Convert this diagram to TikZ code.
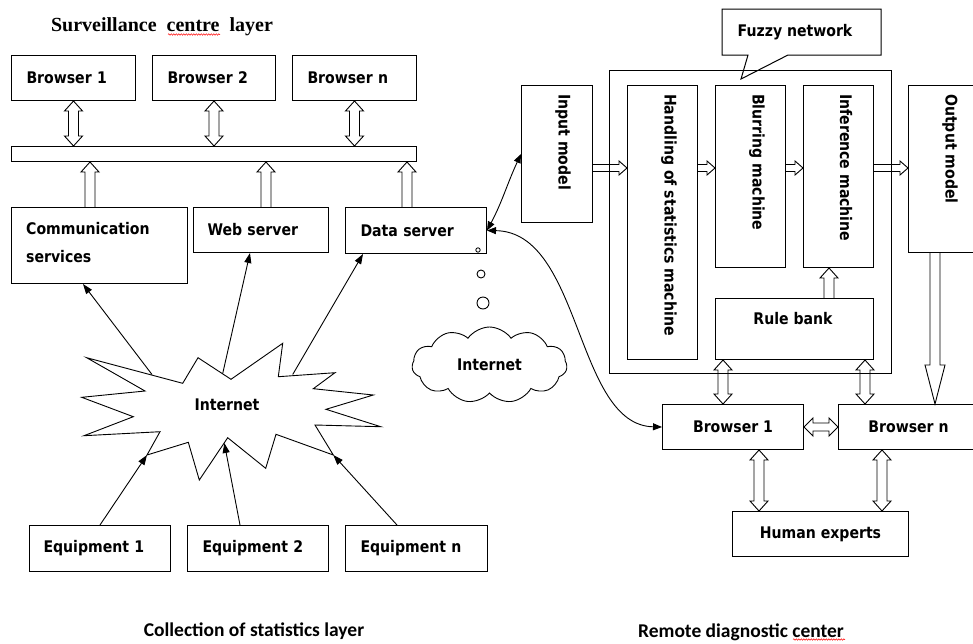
\documentclass[tikz,border=0pt]{standalone}
\usepackage{fontspec}
\setmainfont{Liberation Serif}
\newfontfamily\bxf{DejaVu Sans}[FakeStretch=0.88]
\newfontfamily\carl{Carlito}
\usetikzlibrary{calc,shapes.symbols,arrows.meta,decorations.pathmorphing}
% block arrows
\newcommand\vdarr[2]{\draw[blk] let \p1=#1, \p2=#2 in (\x1,\y1) -- (\x1+9pt,\y1-10pt) -- (\x1+5pt,\y1-10pt) -- (\x1+5pt,\y2+10pt) -- (\x1+9pt,\y2+10pt) -- (\x1,\y2) -- (\x1-9pt,\y2+10pt) -- (\x1-5pt,\y2+10pt) -- (\x1-5pt,\y1-10pt) -- (\x1-9pt,\y1-10pt) -- cycle;}
\newcommand\vuarr[2]{\draw[blk] let \p1=#1, \p2=#2 in (\x1-5pt,\y1) -- (\x1-5pt,\y2-10pt) -- (\x1-9pt,\y2-10pt) -- (\x1,\y2) -- (\x1+9pt,\y2-10pt) -- (\x1+5pt,\y2-10pt) -- (\x1+5pt,\y1);}
\newcommand\hrarr[2]{\draw[blk] let \p1=#1, \p2=#2 in (\x1,\y1+3.5pt) -- (\x2-8pt,\y1+3.5pt) -- (\x2-8pt,\y1+7pt) -- (\x2,\y1) -- (\x2-8pt,\y1-7pt) -- (\x2-8pt,\y1-3.5pt) -- (\x1,\y1-3.5pt);}
\newcommand\hdarr[2]{\draw[blk] let \p1=#1, \p2=#2 in (\x1,\y1) -- (\x1+9pt,\y1+9pt) -- (\x1+9pt,\y1+4pt) -- (\x2-9pt,\y1+4pt) -- (\x2-9pt,\y1+9pt) -- (\x2,\y1) -- (\x2-9pt,\y1-9pt) -- (\x2-9pt,\y1-4pt) -- (\x1+9pt,\y1-4pt) -- (\x1+9pt,\y1-9pt) -- cycle;}
\newcommand\vdown[2]{\draw[blk] let \p1=#1, \p2=#2 in (\x1-5pt,\y1) -- (\x1-5pt,\y2+39pt) -- (\x1-10pt,\y2+39pt) -- (\x1,\y2) -- (\x1+10pt,\y2+39pt) -- (\x1+5pt,\y2+39pt) -- (\x1+5pt,\y1);}
\begin{document}
\begin{tikzpicture}[x=1pt,y=-1pt,
  tf/.style={font=\bxf\bfseries\fontsize{16}{19}\selectfont},
  bx/.style={draw, line width=1pt, inner sep=0pt, anchor=north west, tf},
  lbx/.style={bx, inner xsep=15pt, align=left},
  vt/.style={tf, inner sep=0pt, anchor=west, rotate=-90},
  blk/.style={line width=0.9pt, line join=miter},
  la/.style={line width=0.9pt, -{Triangle[length=10pt,width=7pt]}},
  cv/.style={line width=0.9pt, {Triangle[length=9pt,width=7pt]}-{Triangle[length=9pt,width=7pt]}},
  squig/.style={red, line width=0.5pt, decorate, decoration={snake, amplitude=0.7pt, segment length=2.5pt}}
]
\useasboundingbox (0,0) rectangle (973,643);

% ---------- Surveillance centre layer ----------
\node[font=\bfseries\fontsize{20}{23}\selectfont, inner sep=0pt] (title) at (162,27) {Surveillance\ \ centre\ \ layer};
\draw[squig] (168,34.5) -- (220,34.5);

\node[lbx, minimum width=124pt, minimum height=45pt, text width=94pt] (b1) at (11,55) {Browser 1};
\node[lbx, minimum width=123pt, minimum height=45pt, text width=93pt] (b2) at (152,55) {Browser 2};
\node[lbx, minimum width=124pt, minimum height=45pt, text width=94pt] (bn) at (292,55) {Browser n};
\node[bx, minimum width=405pt, minimum height=15pt] (bus) at (11,146) {};

\node[bx, minimum width=176pt, minimum height=76pt] (comm) at (11,207) {};
\node[tf, inner sep=0pt, anchor=base west] (tcomm1) at (26,234) {Communication};
\node[tf, inner sep=0pt, anchor=base west] (tcomm2) at (26,262) {services};
\node[bx, inner xsep=14pt, align=left, minimum width=135pt, minimum height=45pt, text width=107pt] (web) at (193,207) {Web server};
\node[bx, inner xsep=15pt, align=left, minimum width=141pt, minimum height=46pt, text width=111pt] (ds) at (345,207) {Data server};

\vdarr{(b1.south)}{(bus.north)}
\vdarr{(b2.south)}{(bus.north)}
\vdarr{(bn.south)}{(bus.north)}
\vuarr{($(comm.north west)+(79,0)$)}{(bus.south)}
\vuarr{($(web.north west)+(73,0)$)}{(bus.south)}
\vuarr{($(ds.north west)+(62,0)$)}{(bus.south)}

% ---------- Internet star ----------
\draw[line width=0.9pt, line join=miter] (86.7,357.7) -- (145,391) -- (81.7,397.3) -- (133.3,416.7) -- (84,435.7) -- (160,431.7) -- (147,455) -- (188.3,442.3) -- (199.3,480) -- (227.7,437.7) -- (265.7,468.3) -- (276,434.3) -- (333.3,455) -- (315,425) -- (380.7,426.7) -- (326,409.3) -- (373.3,395) -- (313.3,388.7) -- (335,372.7) -- (278.3,376.7) -- (282.7,343.3) -- (231,379.3) -- (198,357.7) -- (182.7,383.3) -- cycle;
\node[tf, inner sep=0pt] (inet) at (227,405) {Internet};
\coordinate (sc) at (152,374.5);
\coordinate (sw) at (222.7,373.5);
\coordinate (sd) at (292.7,374.5);
\coordinate (se1) at (147,455);
\coordinate (se2) at (224.3,443);
\coordinate (sen) at (333.3,455);

\node[lbx, inner xsep=14pt, minimum width=141pt, minimum height=46pt, text width=113pt] (eq1) at (29,525) {Equipment 1};
\node[lbx, inner xsep=15pt, minimum width=141pt, minimum height=46pt, text width=111pt] (eq2) at (187,525) {Equipment 2};
\node[lbx, inner xsep=15pt, minimum width=142pt, minimum height=46pt, text width=112pt] (eqn) at (345,525) {Equipment n};

\draw[la] (sc) -- ($(comm.south west)+(72,0)$);
\draw[la] (sw) -- ($(web.south west)+(57,0)$);
\draw[la] (sd) -- ($(ds.south west)+(18,0)$);
\draw[la] ($(eq1.north west)+(71,0)$) -- (se1);
\draw[la] ($(eq2.north west)+(53,0)$) -- (se2);
\draw[la] ($(eqn.north west)+(52,0)$) -- (sen);

\node[font=\carl\bfseries\fontsize{19.5}{22}\selectfont, inner sep=0pt] (coll) at (254,631) {Collection of statistics layer};

% ---------- thought bubbles and cloud ----------
\draw[line width=0.8pt] (478,250) circle (2.2);
\draw[line width=0.9pt] (481,274) circle (4);
\draw[line width=0.9pt] (483,303) circle (6);
\node[cloud, draw, line width=0.9pt, cloud puffs=11, cloud puff arc=110, aspect=2.1, minimum width=155pt, minimum height=76pt, inner sep=0pt, tf] (cloud) at (489.5,365) {Internet};

% ---------- Fuzzy network ----------
\draw[line width=1pt, line join=miter] (722,9) -- (881,9) -- (881,55) -- (788,55) -- (741,79) -- (748,55) -- (722,55) -- cycle;
\node[tf, inner sep=0pt] (fzl) at (795,32) {Fuzzy network};

\node[bx, minimum width=282pt, minimum height=303pt] (fz) at (609,70) {};
\node[bx, minimum width=71pt, minimum height=137pt] (inp) at (521,85) {};
\node[bx, minimum width=70pt, minimum height=274pt] (hand) at (627,85) {};
\node[bx, minimum width=70pt, minimum height=182pt] (blur) at (715,85) {};
\node[bx, minimum width=70pt, minimum height=182pt] (inf) at (803,85) {};
\node[bx, minimum width=75pt, minimum height=167pt] (out) at (908,85) {};
\node[bx, minimum width=158pt, minimum height=61pt] (rule) at (715,298) {};

\node[vt] (tinp) at (563,94) {Input model};
\node[vt] (thand) at (669,94) {Handling of statistics machine};
\node[vt] (tblur) at (757,94) {Blurring machine};
\node[vt] (tinf) at (846,94) {Inference machine};
\node[vt] (tout) at (950,94) {Output model};
\node[tf, inner sep=0pt] (trule) at (793,319) {Rule bank};

\hrarr{($(inp.north east)+(0,83)$)}{(hand.west)}
\hrarr{($(hand.north east)+(0,83)$)}{(blur.west)}
\hrarr{($(blur.north east)+(0,83)$)}{(inf.west)}
\hrarr{($(inf.north east)+(0,83)$)}{(out.west)}
\vuarr{($(rule.north west)+(114,0)$)}{(inf.south)}

% ---------- Remote diagnostic center ----------
\node[bx, minimum width=141pt, minimum height=45pt] (rb1) at (662,404) {Browser 1};
\node[bx, minimum width=140pt, minimum height=45pt] (rbn) at (838,404) {Browser n};
\node[bx, minimum width=176pt, minimum height=45pt] (hum) at (732,511) {Human experts};

\vdown{($(out.south west)+(27,0)$)}{(rbn.north)}
\vdarr{($(rule.south west)+(8,0)$)}{(rb1.north)}
\vdarr{($(rule.south east)+(-9,0)$)}{(rbn.north)}
\hdarr{(rb1.east)}{(rbn.west)}
\vdarr{($(rb1.south west)+(97,0)$)}{(hum.north)}
\vdarr{($(rbn.south west)+(44,0)$)}{(hum.north)}

\draw[cv] (ds.east) to[out=62,in=-115] (inp.west);
\draw[cv] (ds.east) .. controls (582,232) and (575,425) .. (rb1.west);

\node[font=\carl\bfseries\fontsize{19.5}{22}\selectfont, inner sep=0pt] (rdc) at (741,632) {Remote diagnostic center};
\draw[squig] (793,639.5) -- (845,639.5);
\end{tikzpicture}
\end{document}
